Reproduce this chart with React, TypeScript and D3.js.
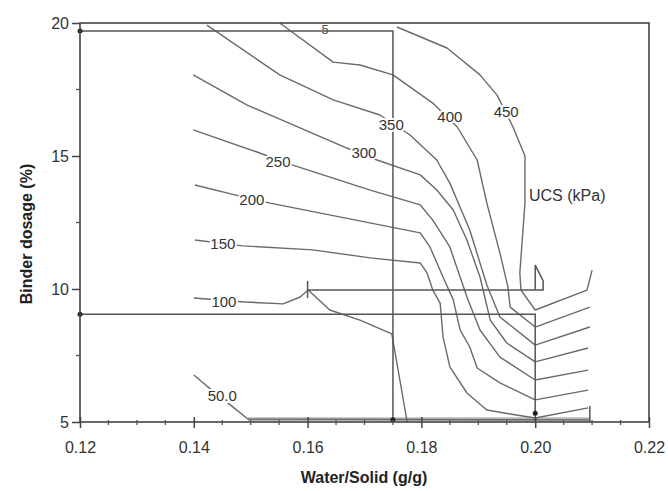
import React, { useEffect, useRef } from "react";
import * as d3 from "d3";

// UCS contour levels (kPa) and their traced paths: [water/solid, binder %]
const levels = [50, 100, 150, 200, 250, 300, 350, 400, 450];

const c50 = [[0.14, 6.77], [0.1423, 6.35], [0.1469, 5.56], [0.1495, 5.11], [0.2096, 5.08]];
const c100 = [[0.14, 9.66], [0.149, 9.51], [0.1557, 9.44], [0.1587, 9.7], [0.1601, 9.96], [0.1639, 9.21], [0.1692, 8.83], [0.1748, 8.31], [0.1775, 5.0]];
const c150 = [[0.1402, 11.84], [0.1486, 11.62], [0.1609, 11.47], [0.171, 11.17], [0.1798, 10.98], [0.181, 10.6], [0.182, 9.96], [0.1833, 9.47], [0.1838, 8.2], [0.185, 7.07], [0.188, 6.09], [0.1915, 5.45], [0.1956, 5.3], [0.2, 5.15], [0.2093, 5.53]];
const c200 = [[0.1402, 13.91], [0.1472, 13.54], [0.1534, 13.23], [0.1727, 12.41], [0.1798, 12.11], [0.1815, 11.58], [0.1838, 10.45], [0.1856, 9.59], [0.1868, 8.46], [0.1885, 7.82], [0.1898, 7.03], [0.1938, 6.47], [0.2, 5.83], [0.2093, 6.2]];
const c250 = [[0.1399, 15.98], [0.1511, 15.15], [0.1574, 14.66], [0.171, 13.72], [0.1798, 13.16], [0.182, 12.59], [0.185, 11.58], [0.1868, 10.45], [0.1882, 9.59], [0.1903, 8.46], [0.1938, 7.44], [0.2, 6.58], [0.2093, 6.95]];
const c300 = [[0.1399, 18.05], [0.1493, 16.92], [0.1669, 15.3], [0.1722, 14.85], [0.1798, 14.29], [0.1827, 13.72], [0.1856, 12.97], [0.188, 11.84], [0.1903, 10.45], [0.1921, 8.83], [0.195, 7.97], [0.2, 7.26], [0.2093, 7.78]];
const c350 = [[0.1423, 19.92], [0.1551, 18.05], [0.1645, 17.11], [0.1727, 16.54], [0.178, 15.79], [0.1827, 14.85], [0.185, 13.98], [0.1885, 12.22], [0.1915, 10.15], [0.1938, 8.95], [0.2, 7.89], [0.2096, 8.57]];
const c400 = [[0.1551, 20.0], [0.1645, 18.53], [0.1692, 18.42], [0.175, 18.05], [0.182, 16.99], [0.1863, 16.09], [0.1898, 14.85], [0.1915, 13.23], [0.1938, 11.35], [0.1952, 10.08], [0.1956, 9.32], [0.2, 8.57], [0.2096, 9.32]];
const c450 = [[0.1757, 19.85], [0.1845, 19.06], [0.1903, 18.05], [0.1933, 17.29], [0.1961, 16.09], [0.1982, 15.0], [0.1982, 13.23], [0.1973, 10.6], [0.1975, 9.96], [0.2, 9.21], [0.2091, 9.96], [0.21, 10.71]];
const contours = [c50, c100, c150, c200, c250, c300, c350, c400, c450];

// label anchors for each level
const labelText = ["50.0", "100", "150", "200", "250", "300", "350", "400", "450"];
const labelAt = [[0.145, 5.98], [0.1453, 9.51], [0.1451, 11.69], [0.1502, 13.35], [0.1548, 14.77], [0.1699, 15.11], [0.1747, 16.17], [0.185, 16.47], [0.1949, 16.65]];

// reference lines drawn on top of the map
const refTop = [[0.12, 19.7], [0.175, 19.7], [0.175, 5.0]];
const refNine = [[0.12, 9.05], [0.2, 9.05], [0.2, 5.0]];
const refTen = [[0.16, 9.96], [0.2014, 9.96], [0.2014, 10.3], [0.2, 10.9], [0.2, 9.96]];
const refTick = [[0.16, 10.3], [0.16, 9.66]];
const endTick = [[0.2096, 5.0], [0.2096, 5.6]];
const bottomBand = [[0.1495, 5.1], [0.2096, 5.1]];
const refDots = [[0.12, 19.7], [0.12, 9.05], [0.175, 5.08], [0.2, 5.33]];

const xTicks = [0.12, 0.14, 0.16, 0.18, 0.2, 0.22];
const yTicks = [5, 10, 15, 20];

const W = 668;
const H = 491;

export default function App() {
  const ref = useRef(null);

  useEffect(() => {
    const svg = d3.select(ref.current);
    svg.selectAll("*").remove();

    const x = d3.scaleLinear().domain([0.12, 0.22]).range([80, 649]);
    const y = d3.scaleLinear().domain([5, 20]).range([422, 23]);
    const line = d3.line().x((d) => x(d[0])).y((d) => y(d[1]));
    const font = "Arial, 'Liberation Sans', sans-serif";

    svg.append("rect").attr("width", W).attr("height", H).attr("fill", "#fff");

    // bottom band where lines bunch up
    svg.append("path").attr("d", line(bottomBand)).attr("fill", "none")
      .attr("stroke", "#b8b8b8").attr("stroke-width", 4);

    // contours
    svg.selectAll("path.ct").data(contours).enter().append("path")
      .attr("class", "ct")
      .attr("d", (d) => line(d))
      .attr("fill", "none")
      .attr("stroke", "#6a6a6a")
      .attr("stroke-width", 1.4)
      .attr("stroke-linejoin", "round");

    // reference lines
    [refTop, refNine, refTen, refTick, endTick].forEach((r) => {
      svg.append("path").attr("d", line(r)).attr("fill", "none")
        .attr("stroke", "#555").attr("stroke-width", 1.5);
    });

    // contour labels with white halo to break the line
    svg.selectAll("text.lab").data(levels).enter().append("text")
      .attr("class", "lab")
      .attr("x", (d, i) => x(labelAt[i][0]))
      .attr("y", (d, i) => y(labelAt[i][1]))
      .attr("dy", "0.35em")
      .attr("text-anchor", "middle")
      .attr("font-family", font)
      .attr("font-size", 15)
      .attr("fill", "#333")
      .attr("stroke", "#fff")
      .attr("stroke-width", 4)
      .attr("paint-order", "stroke")
      .text((d, i) => labelText[i]);

    // partial label hidden at the top edge
    svg.append("text").attr("x", x(0.1631)).attr("y", y(19.77)).attr("dy", "0.4em")
      .attr("text-anchor", "middle").attr("font-family", font).attr("font-size", 13)
      .attr("fill", "#555").text("5");

    svg.selectAll("circle.dot").data(refDots).enter().append("circle")
      .attr("class", "dot")
      .attr("cx", (d) => x(d[0])).attr("cy", (d) => y(d[1]))
      .attr("r", 2.5).attr("fill", "#222");

    // frame
    svg.append("rect").attr("x", 80).attr("y", 23).attr("width", 569).attr("height", 399)
      .attr("fill", "none").attr("stroke", "#444").attr("stroke-width", 1.6);

    // x axis
    const xa = svg.append("g").attr("transform", "translate(0,422)");
    xa.call(d3.axisBottom(x).tickValues(xTicks).tickSize(6).tickFormat(d3.format(".2f")));
    xa.select(".domain").remove();
    xa.selectAll(".tick line").attr("y1", -5).attr("stroke", "#444").attr("stroke-width", 1.5);
    xa.selectAll(".tick text").attr("font-family", font).attr("font-size", 16)
      .attr("fill", "#333").attr("dy", "1.35em");
    const xMinor = d3.range(0.125, 0.22, 0.005).filter((v) => Math.abs((v * 100) % 2) > 0.1);
    xa.selectAll("line.mn").data(xMinor).enter().append("line").attr("class", "mn")
      .attr("x1", (d) => x(d)).attr("x2", (d) => x(d)).attr("y1", -2).attr("y2", 3)
      .attr("stroke", "#555").attr("stroke-width", 1.3);

    // y axis
    const ya = svg.append("g").attr("transform", "translate(80,0)");
    ya.call(d3.axisLeft(y).tickValues(yTicks).tickSize(8));
    ya.select(".domain").remove();
    ya.selectAll(".tick line").attr("stroke", "#444").attr("stroke-width", 1.5);
    ya.selectAll(".tick text").attr("font-family", font).attr("font-size", 16).attr("fill", "#333");
    ya.selectAll("line.mn").data([7.5, 12.5, 17.5]).enter().append("line").attr("class", "mn")
      .attr("x1", -4).attr("x2", 0).attr("y1", (d) => y(d)).attr("y2", (d) => y(d))
      .attr("stroke", "#555").attr("stroke-width", 1.3);

    // titles
    svg.append("text").attr("x", 364).attr("y", 483).attr("text-anchor", "middle")
      .attr("font-family", font).attr("font-size", 16).attr("font-weight", "bold")
      .attr("fill", "#222").text("Water/Solid (g/g)");
    svg.append("text").attr("transform", "translate(32,234) rotate(-90)")
      .attr("text-anchor", "middle").attr("font-family", font).attr("font-size", 16)
      .attr("font-weight", "bold").attr("fill", "#222").text("Binder dosage (%)");
    svg.append("text").attr("x", 529).attr("y", 201).attr("font-family", font)
      .attr("font-size", 16).attr("fill", "#333").text("UCS (kPa)");
  });

  return (
    <svg
      ref={ref}
      width={W}
      height={H}
      style={{ position: "absolute", left: 0, top: 0 }}
    ></svg>
  );
}
